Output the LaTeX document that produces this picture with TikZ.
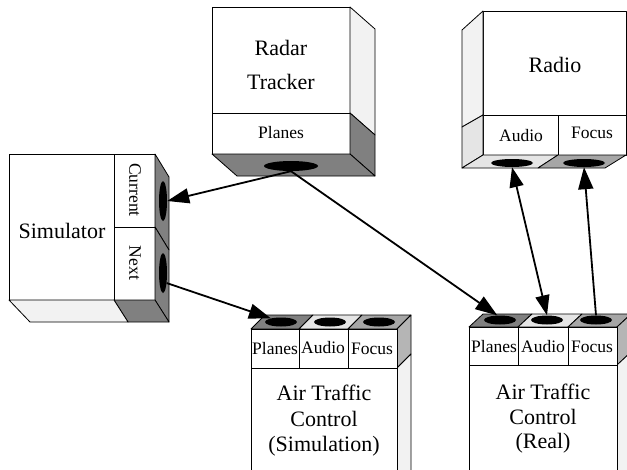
\documentclass[tikz,border=0pt]{standalone}
\usepackage{fontspec}
\setmainfont{Liberation Serif}
\usetikzlibrary{arrows.meta,shapes.geometric}
\definecolor{dk}{gray}{0.5}
\definecolor{lt}{gray}{0.95}
\definecolor{lg}{gray}{0.9}
\definecolor{md}{gray}{0.65}
\definecolor{sd}{gray}{0.71}
\begin{document}
\begin{tikzpicture}[x=1pt,y=-1pt,
  face/.style={draw=black, line width=0.8pt, line join=round},
  hole/.style={ellipse, fill=black, inner sep=0pt},
  big/.style={font=\fontsize{22}{26}\selectfont, inner sep=0pt, align=center},
  small/.style={font=\fontsize{17.5}{20}\selectfont, inner sep=0pt},
  arr/.style={line width=1.8pt, -{Triangle[length=22pt,width=15pt]}},
  darr/.style={line width=1.8pt, {Triangle[length=20pt,width=14pt]}-{Triangle[length=20pt,width=14pt]}}]
\clip (0,0) rectangle (627,469);
\fill[white] (0,0) rectangle (627,469);
% Radar Tracker
\filldraw[face, fill=white] (212,7) rectangle (350,113);
\filldraw[face, fill=white] (212,113) rectangle (350,154);
\filldraw[face, fill=lt] (350,7) -- (375,29) -- (375,135) -- (350,113) -- cycle;
\filldraw[face, fill=dk] (350,113) -- (375,135) -- (375,176) -- (350,154) -- cycle;
\filldraw[face, fill=dk] (212,154) -- (350,154) -- (375,176) -- (237,176) -- cycle;
% Simulator
\filldraw[face, fill=white] (9,154) rectangle (114,300);
\filldraw[face, fill=white] (114,154) rectangle (155,227);
\filldraw[face, fill=white] (114,227) rectangle (155,300);
\filldraw[face, fill=dk] (155,154) -- (169,177) -- (169,250) -- (155,227) -- cycle;
\filldraw[face, fill=dk] (155,227) -- (169,250) -- (169,322) -- (155,300) -- cycle;
\filldraw[face, fill=dk] (114,300) -- (155,300) -- (169,322) -- (128,322) -- cycle;
\filldraw[face, fill=lt] (9,300) -- (114,300) -- (128,322) -- (30,322) -- cycle;
% Radio
\filldraw[face, fill=white] (483,11) rectangle (626,115);
\filldraw[face, fill=white] (483,115) rectangle (558,155);
\filldraw[face, fill=white] (558,115) rectangle (626,155);
\filldraw[face, fill=lt] (483,11) -- (462,30) -- (462,127) -- (483,115) -- cycle;
\filldraw[face, fill=lg] (483,115) -- (462,127) -- (462,168) -- (483,155) -- cycle;
\filldraw[face, fill=lg] (483,155) -- (558,155) -- (538,168) -- (462,168) -- cycle;
\filldraw[face, fill=md] (558,155) -- (626,155) -- (605,168) -- (538,168) -- cycle;
% ATC Simulation
\filldraw[face, fill=dk] (251,329) -- (299,329) -- (313,315) -- (265,315) -- cycle;
\filldraw[face, fill=lg] (299,329) -- (348,329) -- (362,315) -- (313,315) -- cycle;
\filldraw[face, fill=md] (348,329) -- (397,329) -- (411,315) -- (362,315) -- cycle;
\filldraw[face, fill=sd] (397,329) -- (411,315) -- (411,354) -- (397,368) -- cycle;
\filldraw[face, fill=lt] (397,368) -- (411,354) -- (411,480) -- (397,480) -- cycle;
\filldraw[face, fill=white] (251,329) rectangle (299,368);
\filldraw[face, fill=white] (299,329) rectangle (348,368);
\filldraw[face, fill=white] (348,329) rectangle (397,368);
\filldraw[face, fill=white] (251,368) rectangle (397,480);
% ATC Real
\filldraw[face, fill=dk] (469,327) -- (518,327) -- (532,314) -- (483,314) -- cycle;
\filldraw[face, fill=lg] (518,327) -- (568,327) -- (582,314) -- (532,314) -- cycle;
\filldraw[face, fill=md] (568,327) -- (617,327) -- (631,314) -- (582,314) -- cycle;
\filldraw[face, fill=sd] (617,327) -- (631,314) -- (631,352) -- (617,365) -- cycle;
\filldraw[face, fill=lt] (617,365) -- (631,352) -- (631,480) -- (617,480) -- cycle;
\filldraw[face, fill=white] (469,327) rectangle (518,365);
\filldraw[face, fill=white] (518,327) rectangle (568,365);
\filldraw[face, fill=white] (568,327) rectangle (617,365);
\filldraw[face, fill=white] (469,365) rectangle (617,480);
% holes
\node[hole, minimum width=54pt, minimum height=10pt] (rP) at (291,166) {};
\node[hole, minimum width=8pt, minimum height=40pt] (sC) at (163,201) {};
\node[hole, minimum width=8pt, minimum height=40pt] (sN) at (163,273) {};
\node[hole, minimum width=42pt, minimum height=8pt] (rA) at (512,163) {};
\node[hole, minimum width=42pt, minimum height=8pt] (rF) at (584,163) {};
\node[hole, minimum width=32pt, minimum height=9pt] (bP) at (281,322) {};
\node[hole, minimum width=32pt, minimum height=9pt] (bA) at (330,322) {};
\node[hole, minimum width=32pt, minimum height=9pt] (bF) at (379,322) {};
\node[hole, minimum width=32pt, minimum height=9pt] (aP) at (500,320) {};
\node[hole, minimum width=32pt, minimum height=9pt] (aA) at (547,320) {};
\node[hole, minimum width=32pt, minimum height=9pt] (aF) at (596,320) {};
% texts
\node[big, font=\fontsize{22}{34}\selectfont] (radarT) at (281,65) {Radar\\Tracker};
\node[small] (radarP) at (281,133) {Planes};
\node[big] (simT) at (62,231) {Simulator};
\node[small, rotate=-90] (simC) at (135,190) {Current};
\node[small, rotate=-90] (simN) at (135,263) {Next};
\node[big] (radioT) at (555,65) {Radio};
\node[small] (radioA) at (521,136) {Audio};
\node[small] (radioF) at (592,133) {Focus};
\node[small] (bPt) at (275,349) {Planes};
\node[small] (bAt) at (323,348) {Audio};
\node[small] (bFt) at (372,349) {Focus};
\node[big, font=\fontsize{22}{25.5}\selectfont] (bT) at (324,421) {Air Traffic\\Control\\(Simulation)};
\node[small] (aPt) at (494,347) {Planes};
\node[small] (aAt) at (543,347) {Audio};
\node[small] (aFt) at (592,347) {Focus};
\node[big, font=\fontsize{22}{24.5}\selectfont] (aT) at (543,419) {Air Traffic\\Control\\(Real)};
% connectors
\draw[arr] (rP.south) -- (sC.east);
\draw[arr] (rP.south) -- (aP.120);
\draw[arr] (sN.-70) -- (bP.160);
\draw[darr] (rA.south) -- (aA.north);
\draw[arr] (aF.north) -- (rF.south);
\end{tikzpicture}
\end{document}
